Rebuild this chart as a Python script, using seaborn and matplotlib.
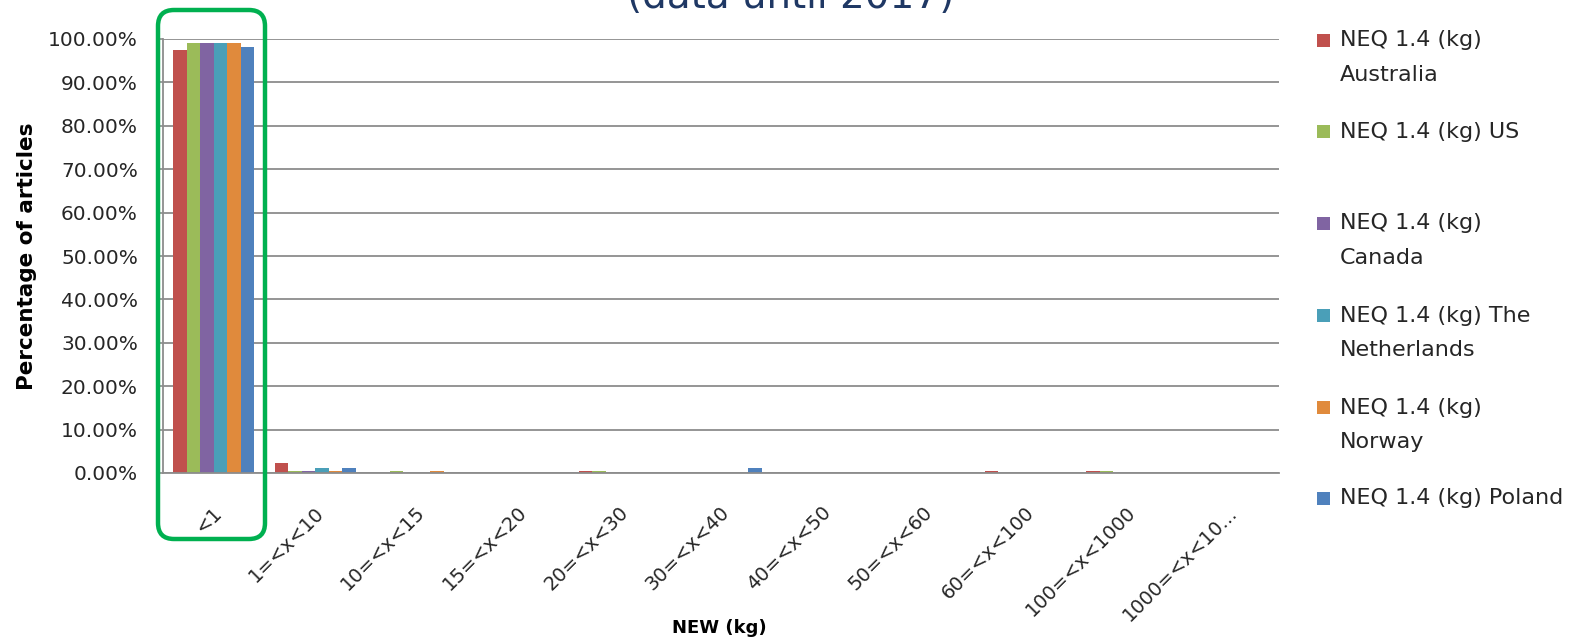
import matplotlib
matplotlib.use("Agg")
import matplotlib.pyplot as plt
import matplotlib.ticker as mticker
from matplotlib.patches import FancyBboxPatch, Rectangle
from matplotlib.transforms import IdentityTransform, ScaledTranslation
import seaborn as sns
import pandas as pd

# data (percent of articles)
ranges = ['<1', '1=<x<10', '10=<x<15', '15=<x<20', '20=<x<30', '30=<x<40',
          '40=<x<50', '50=<x<60', '60=<x<100', '100=<x<1000', '1000=<x<10...']
australia = [97.4, 2.2, 0.0, 0.0, 0.5, 0.0, 0.0, 0.0, 0.5, 0.5, 0.0]
us = [99.1, 0.5, 0.5, 0.0, 0.5, 0.0, 0.0, 0.0, 0.0, 0.5, 0.0]
canada = [99.1, 0.5, 0.0, 0.0, 0.0, 0.0, 0.0, 0.0, 0.0, 0.0, 0.0]
netherlands = [99.1, 1.2, 0.0, 0.0, 0.0, 0.0, 0.0, 0.0, 0.0, 0.0, 0.0]
norway = [99.1, 0.5, 0.5, 0.0, 0.0, 0.0, 0.0, 0.0, 0.0, 0.0, 0.0]
poland = [98.1, 1.2, 0.0, 0.0, 0.0, 1.2, 0.0, 0.0, 0.0, 0.0, 0.0]

series_names = ['NEQ 1.4 (kg) Australia', 'NEQ 1.4 (kg) US', 'NEQ 1.4 (kg) Canada',
                'NEQ 1.4 (kg) The Netherlands', 'NEQ 1.4 (kg) Norway', 'NEQ 1.4 (kg) Poland']
legend_labels = ['NEQ 1.4 (kg)\nAustralia', 'NEQ 1.4 (kg) US', 'NEQ 1.4 (kg)\nCanada',
                 'NEQ 1.4 (kg) The\nNetherlands', 'NEQ 1.4 (kg)\nNorway', 'NEQ 1.4 (kg) Poland']
colors = ['#C0504D', '#9BBB59', '#8064A2', '#4A9FB8', '#E08A3C', '#4F81BD']

values = [australia, us, canada, netherlands, norway, poland]
rows = []
for name, vals in zip(series_names, values):
    for r, v in zip(ranges, vals):
        rows.append({'range': r, 'pct': v, 'series': name})
df = pd.DataFrame(rows)

sns.set_style('white')
plt.rcParams['font.family'] = ['DejaVu Sans']

W, H = 1577, 642
fig = plt.figure(figsize=(W / 100, H / 100), dpi=100)
ax = fig.add_axes([163 / W, 1 - 473 / H, (1279 - 163) / W, (473 - 39) / H])

sns.barplot(data=df, x='range', y='pct', hue='series', order=ranges,
            hue_order=series_names, palette=colors, width=0.8,
            linewidth=0, saturation=1, legend=False, ax=ax)

ax.set_ylim(0, 100)
ax.set_xlim(-0.5, len(ranges) - 0.5)
ax.yaxis.set_major_locator(mticker.MultipleLocator(10))
ax.yaxis.set_major_formatter(mticker.FuncFormatter(lambda v, p: f'{v:.2f}%'))
ax.set_axisbelow(True)
ax.grid(axis='y', color='#8c8c8c', linewidth=1.3)
ax.grid(axis='x', visible=False)
for s in ['top', 'right']:
    ax.spines[s].set_visible(False)
ax.spines['left'].set_color('#8c8c8c')
ax.spines['left'].set_linewidth(1.3)
ax.spines['bottom'].set_color('#8c8c8c')
ax.spines['bottom'].set_linewidth(1.3)

ax.tick_params(axis='y', left=True, length=4, width=1.2, color='#8c8c8c',
               pad=14, labelsize=14.5, labelcolor='#262626')
ax.tick_params(axis='x', bottom=False, pad=18, labelsize=14, labelcolor='#262626')
offset = ScaledTranslation(-1 / 100, 0, fig.dpi_scale_trans)
for lab in ax.get_xticklabels():
    lab.set_rotation(45)
    lab.set_ha('right')
    lab.set_va('top')
    lab.set_rotation_mode('anchor')
    lab.set_transform(lab.get_transform() + offset)

ax.set_xlabel('')
ax.set_ylabel('')
fig.text(27 / W, 1 - 256 / H, 'Percentage of articles', rotation=90, ha='center',
         va='center', fontsize=15.5, fontweight='bold', color='#000000')
fig.text(719 / W, 1 - 628 / H, 'NEW (kg)', ha='center', va='center',
         fontsize=13, fontweight='bold', color='#000000')

# title partly cut off at the top edge, as in the reference
fig.text(791 / W, 1 - 8 / H, '(data until 2017)', ha='center', va='baseline',
         fontsize=28, color='#1F3864')

# legend drawn on the right
line_centers = [40, 131, 223, 315, 407, 498]
for lbl, col, yc in zip(legend_labels, colors, line_centers):
    fig.patches.append(Rectangle((1317, H - yc - 7), 13, 13, transform=IdentityTransform(),
                                 facecolor=col, edgecolor='none', figure=fig))
    fig.text(1340 / W, 1 - (yc - 9.5) / H, lbl, ha='left', va='top',
             fontsize=16, color='#262626', linespacing=1.9)

# green highlight box around the '<1' group
fig.patches.append(FancyBboxPatch((158, H - 539), 107, 529,
                                  boxstyle='round,pad=0,rounding_size=16',
                                  transform=IdentityTransform(), facecolor='none',
                                  edgecolor='#00B050', linewidth=3.2, figure=fig))

fig.savefig('out.png', dpi=100)
